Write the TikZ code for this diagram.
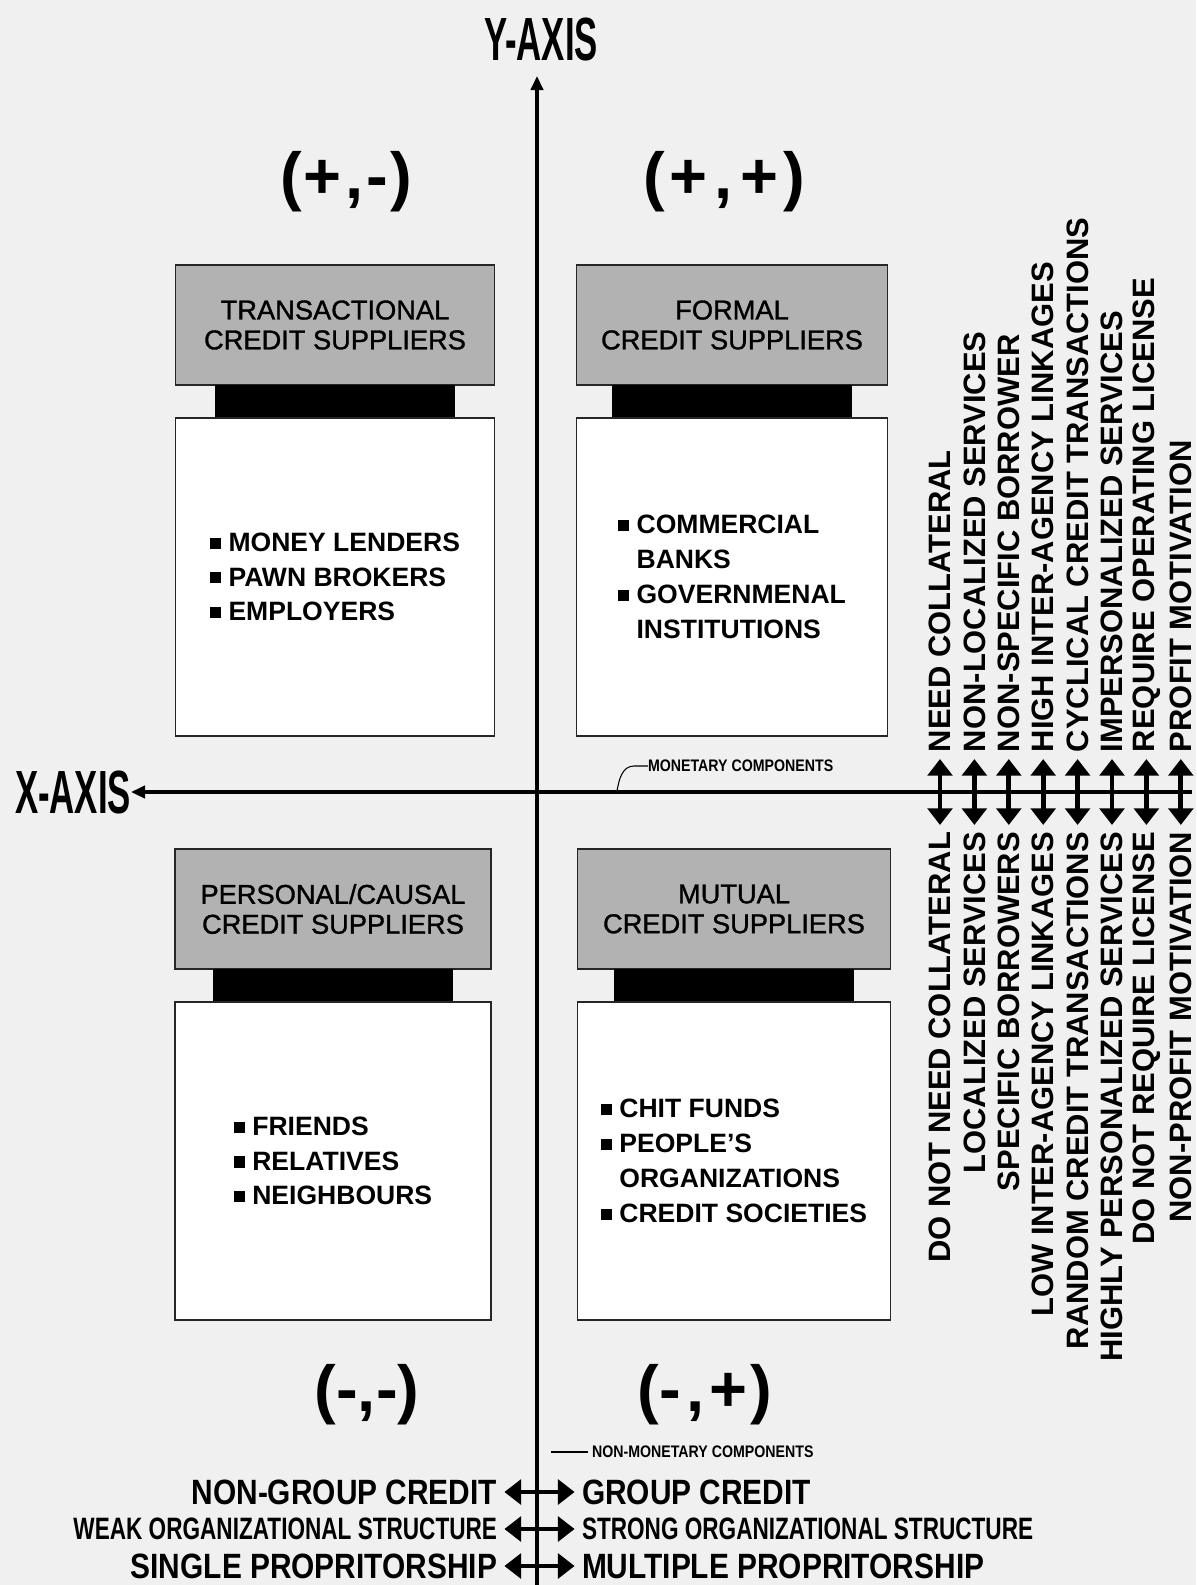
\documentclass[tikz,border=0pt]{standalone}
\usepackage{fontspec}
\setmainfont{Liberation Sans}
\newfontfamily\axfont[FakeStretch=0.57]{Liberation Sans}
\newfontfamily\hdfont[FakeBold=1.2]{Liberation Sans}
\newfontfamily\botfont[FakeStretch=0.85]{Liberation Sans}
\newfontfamily\botnarrow[FakeStretch=0.73]{Liberation Sans}
\usetikzlibrary{positioning,arrows.meta}
\newcommand\sqb{\rule[0.1em]{0.42em}{0.42em}}

\begin{document}
\begin{tikzpicture}[x=0.2mm, y=-0.2mm, every node/.style={inner sep=0pt, outer sep=0pt},
	hdr/.style={draw=black!85, line width=0.8pt, fill=black!30, minimum height=24mm},
	bar/.style={fill=black, minimum width=48mm, minimum height=6.6mm},
	card/.style={draw=black!85, line width=0.8pt, fill=white, minimum height=63.6mm},
	hdtxt/.style={align=center, font=\hdfont\fontsize{15.5}{17}\selectfont},
	items/.style={align=left, font=\fontsize{15.1}{19.8}\selectfont\bfseries},
	quad/.style={font=\fontsize{37}{40}\selectfont\bfseries},
	vtxt/.style={rotate=90, font=\fontsize{17.6}{20}\selectfont\bfseries},
	axlab/.style={font=\axfont\fontsize{34.7}{36}\selectfont\bfseries},
	bot/.style={font=\botfont\fontsize{20}{22}\selectfont\bfseries},
	botn/.style={font=\botnarrow\fontsize{17.6}{20}\selectfont\bfseries},
	tinylab/.style={font=\botfont\fontsize{9.5}{10}\selectfont\bfseries},
	pair/.style={line width=2.8pt, {Triangle[length=9.5pt,width=14pt]}-{Triangle[length=9.5pt,width=14pt]}},
	axisline/.style={line width=1.8pt}]
	\path[use as bounding box, fill=black!6] (0,0) rectangle (1196,1585);

	% quadrant boxes
	\foreach \q/\cx/\cy/\w in {tl/335/325/63.8, tr/732/325/62.2, bl/333/909/63.2, br/734/909/62.6} {
		\node[hdr, minimum width=\w mm] (hd\q) at (\cx,\cy) {};
		\node[bar, below=0pt of hd\q] (bar\q) {};
		\node[card, minimum width=\w mm, below=0pt of bar\q] (box\q) {};
	}
	\node[hdtxt] (ttl) at (hdtl) {TRANSACTIONAL\\CREDIT SUPPLIERS};
	\node[hdtxt] (ttr) at (hdtr) {FORMAL\\CREDIT SUPPLIERS};
	\node[hdtxt] (tbl) at (hdbl) {PERSONAL/CAUSAL\\CREDIT SUPPLIERS};
	\node[hdtxt] (tbr) at (hdbr) {MUTUAL\\CREDIT SUPPLIERS};
	\node[items] (ltl) at (boxtl) {\sqb\ MONEY LENDERS\\\sqb\ PAWN BROKERS\\\sqb\ EMPLOYERS};
	\node[items] (ltr) at (boxtr) {\sqb\ COMMERCIAL\\\phantom{\sqb\ }BANKS\\\sqb\ GOVERNMENAL\\\phantom{\sqb\ }INSTITUTIONS};
	\node[items] (lbl) at (boxbl) {\sqb\ FRIENDS\\\sqb\ RELATIVES\\\sqb\ NEIGHBOURS};
	\node[items] (lbr) at (boxbr) {\sqb\ CHIT FUNDS\\\sqb\ PEOPLE'S\\\phantom{\sqb\ }ORGANIZATIONS\\\sqb\ CREDIT SOCIETIES};

	\node[quad] (qtl) at (346,182) {(\kern1pt+\kern2pt,\kern2pt-\kern1pt)};
	\node[quad] (qtr) at (724,182) {(\kern3pt+\kern4pt,\kern4pt+\kern3pt)};
	\node[quad] (qbl) at (367,1395) {(-,-)};
	\node[quad] (qbr) at (705,1395) {(-\kern3pt,\kern3pt+\kern2pt)};

	% axes
	\node[axlab] (ylab) at (541,40) {Y-AXIS};
	\node[axlab, anchor=east] (xlab) at (131,792) {X-AXIS};
	\coordinate (ytop) at (537,76);
	\coordinate (ybot) at (537,1585);
	\coordinate (xend) at (1192,792);
	\draw[axisline, -{Triangle[length=8pt,width=7pt]}] (ybot) -- (ytop);
	\draw[axisline, line width=2.2pt, -{Triangle[length=8pt,width=7pt]}] (xend) -- (xlab.east);

	\node[tinylab, anchor=west] (mlab) at (648,766) {MONETARY COMPONENTS};
	\coordinate (mfoot) at (617,791);
	\draw[line width=0.6pt] (mlab.west) -- ++(-14,0) to[out=180, in=80] (mfoot);
	\node[tinylab, anchor=west] (nlab) at (592,1452) {NON-MONETARY COMPONENTS};
	\coordinate (nfoot) at (551,1452);
	\draw[line width=0.6pt] ([xshift=-2pt]nlab.west) -- (nfoot);

	% monetary components
	\foreach \i/\ta/\tb in {0/NEED COLLATERAL/DO NOT NEED COLLATERAL,
		1/NON-LOCALIZED SERVICES/LOCALIZED SERVICES,
		2/NON-SPECIFIC BORROWER/SPECIFIC BORROWERS,
		3/HIGH INTER-AGENCY LINKAGES/LOW INTER-AGENCY LINKAGES,
		4/CYCLICAL CREDIT TRANSACTIONS/RANDOM CREDIT TRANSACTIONS,
		5/IMPERSONALIZED SERVICES/HIGHLY PERSONALIZED SERVICES,
		6/REQUIRE OPERATING LICENSE/DO NOT REQUIRE LICENSE,
		7/PROFIT MOTIVATION/NON-PROFIT MOTIVATION} {
		\node[vtxt, anchor=west] (up\i) at ({940+34.4*\i},752) {\ta};
		\node[vtxt, anchor=east] (dn\i) at ({940+34.4*\i},832) {\tb};
		\draw[pair, shorten <=4pt, shorten >=4pt] (up\i.west) -- (dn\i.east);
	}

	% non-monetary components
	\node[bot, anchor=east] (lft1) at (497,1492) {NON-GROUP CREDIT};
	\node[bot, anchor=west] (rgt1) at (582,1492) {GROUP CREDIT};
	\node[botn, anchor=east] (lft2) at (497,1529) {WEAK ORGANIZATIONAL STRUCTURE};
	\node[botn, anchor=west] (rgt2) at (582,1529) {STRONG ORGANIZATIONAL STRUCTURE};
	\node[bot, anchor=east] (lft3) at (497,1566) {SINGLE PROPRITORSHIP};
	\node[bot, anchor=west] (rgt3) at (582,1566) {MULTIPLE PROPRITORSHIP};
	\foreach \i in {1,2,3}
		\draw[pair, shorten <=4.2pt, shorten >=4.2pt] (lft\i.east) -- (rgt\i.west);
\end{tikzpicture}
\end{document}
